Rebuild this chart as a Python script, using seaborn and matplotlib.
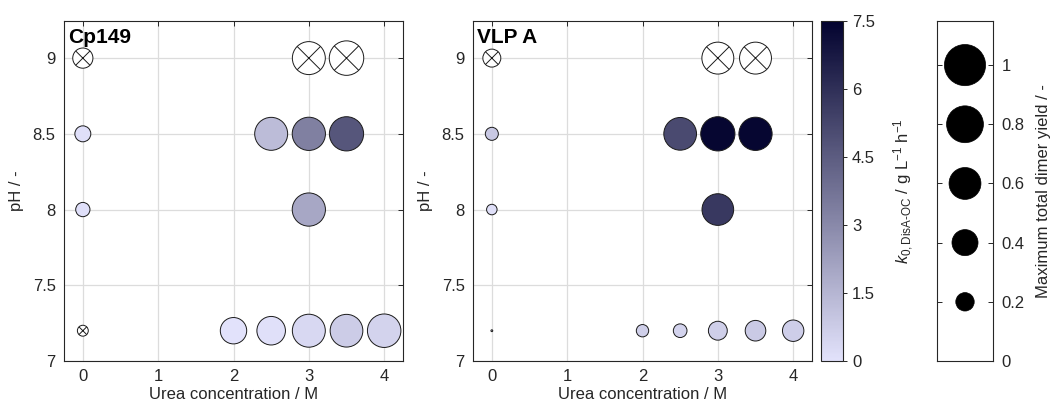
import numpy as np
import pandas as pd
import matplotlib
matplotlib.use("Agg")
import matplotlib.pyplot as plt
from matplotlib.colors import LinearSegmentedColormap, Normalize
from matplotlib.cm import ScalarMappable
import seaborn as sns

# ---- data -------------------------------------------------------------
# marker order: pH 9/8.5/8/7.2 at 0 M, pH 7.2 series, pH 8.5 series, pH 8, pH 9 series
urea = [0, 0, 0, 0, 2, 2.5, 3, 3.5, 4, 2.5, 3, 3.5, 3, 3, 3.5]
ph = [9, 8.5, 8, 7.2, 7.2, 7.2, 7.2, 7.2, 7.2, 8.5, 8.5, 8.5, 8, 9, 9]

# maximum total dimer yield (-) -> marker area
cp149_yield = [0.24, 0.15, 0.12, 0.07, 0.41, 0.48, 0.64, 0.63, 0.66,
               0.64, 0.65, 0.69, 0.65, 0.64, 0.70]
vlpa_yield = [0.19, 0.10, 0.065, 0.002, 0.09, 0.11, 0.21, 0.25, 0.27,
              0.63, 0.69, 0.65, 0.59, 0.60, 0.60]

# initial disassembly rate k0 (g/L/h) -> marker colour; NaN = no disassembly (crossed)
nan = np.nan
cp149_k = [nan, 0.1, 0.1, nan, 0.02, 0.06, 0.35, 0.75, 0.5,
           1.3, 3.3, 4.7, 2.0, nan, nan]
vlpa_k = [nan, 0.9, 0.12, 0.1, 0.65, 0.5, 0.65, 0.8, 0.7,
          5.1, 7.4, 7.4, 5.7, nan, nan]

panels = ["Cp149", "VLP A"]
x_ticks = [0, 1, 2, 3, 4]
y_ticks = [7, 7.5, 8, 8.5, 9]
cbar_ticks = [0, 1.5, 3, 4.5, 6, 7.5]
legend_yields = [0.2, 0.4, 0.6, 0.8, 1.0]
legend_ticks = [0, 0.2, 0.4, 0.6, 0.8, 1]

# ---- style ------------------------------------------------------------
sns.set_style("white")
plt.rcParams["font.family"] = ["Liberation Sans", "DejaVu Sans"]
plt.rcParams["mathtext.fontset"] = "custom"
plt.rcParams["mathtext.rm"] = "Liberation Sans"
plt.rcParams["mathtext.it"] = "Liberation Sans:italic"
plt.rcParams["axes.edgecolor"] = "#262626"
plt.rcParams["axes.linewidth"] = 0.8

cmap = LinearSegmentedColormap.from_list("k0", ["#E2E2FB", "#03032F"])
k_norm = (0, 7.5)
area_max = 880          # marker area (pt^2) for a yield of 1
size_norm = (0, 1)

W, H = 1056, 408
fig = plt.figure(figsize=(W / 100, H / 100), dpi=100)
ax1 = fig.add_axes([64 / W, 47 / H, 339 / W, 340 / H])
ax2 = fig.add_axes([473 / W, 47 / H, 339 / W, 340 / H])
cax = fig.add_axes([821 / W, 47 / H, 22 / W, 340 / H])
lax = fig.add_axes([937 / W, 47 / H, 56 / W, 340 / H])


def draw_panel(ax, name, yields, ks):
    df = pd.DataFrame({"urea": urea, "ph": ph, "yield": yields, "k": ks})
    rated = df[df["k"].notna()]
    crossed = df[df["k"].isna()]
    sns.scatterplot(data=rated, x="urea", y="ph", hue="k", size="yield",
                    palette=cmap, hue_norm=k_norm, sizes=(0, area_max),
                    size_norm=size_norm, edgecolor="#1a1a1a", linewidth=0.7,
                    legend=False, ax=ax, zorder=3)
    sns.scatterplot(data=crossed, x="urea", y="ph", size="yield",
                    sizes=(0, area_max), size_norm=size_norm, color="white",
                    edgecolor="#1a1a1a", linewidth=0.7, legend=False, ax=ax,
                    zorder=3)
    sns.scatterplot(data=crossed, x="urea", y="ph", size="yield", marker="x",
                    sizes=(0, area_max / 2), size_norm=size_norm,
                    color="#1a1a1a", linewidth=0.7, legend=False, ax=ax,
                    zorder=4)
    ax.set_xlim(-0.25, 4.25)
    ax.set_ylim(7, 9.245)
    ax.set_xticks(x_ticks)
    ax.set_yticks(y_ticks)
    ax.set_xticklabels([f"{t:g}" for t in x_ticks])
    ax.set_yticklabels([f"{t:g}" for t in y_ticks])
    ax.grid(True, color="#dcdcdc", linewidth=0.9, zorder=0)
    ax.set_axisbelow(True)
    ax.tick_params(direction="in", length=3.5, width=0.7, top=True,
                   right=True, labelsize=12, colors="#262626", pad=6)
    ax.set_xlabel("Urea concentration / M", fontsize=12, labelpad=2,
                  color="#262626")
    ax.set_ylabel("pH / -", fontsize=12, labelpad=6, color="#262626")
    ax.text(0.012, 0.978, name, transform=ax.transAxes, ha="left", va="top",
            fontsize=15, fontweight="bold", color="black")
    for s in ax.spines.values():
        s.set_visible(True)


draw_panel(ax1, panels[0], cp149_yield, cp149_k)
draw_panel(ax2, panels[1], vlpa_yield, vlpa_k)

# ---- colour bar -------------------------------------------------------
sm = ScalarMappable(norm=Normalize(*k_norm), cmap=cmap)
cb = fig.colorbar(sm, cax=cax, ticks=cbar_ticks)
cb.ax.set_yticklabels([f"{t:g}" for t in cbar_ticks])
cb.ax.tick_params(labelsize=12, length=3, width=0.7, colors="#262626")
cb.outline.set_linewidth(0.8)
cb.outline.set_edgecolor("#262626")
cb.set_label(r"$k_{\mathrm{0,DisA\text{-}OC}}$ / g L$^{-1}$ h$^{-1}$",
             fontsize=12, labelpad=12, color="#262626")

# ---- size key ---------------------------------------------------------
key = pd.DataFrame({"x": [0] * len(legend_yields), "yield": legend_yields})
sns.scatterplot(data=key, x="x", y="yield", size="yield", sizes=(0, area_max),
                size_norm=size_norm, color="black", edgecolor="black",
                linewidth=0.5, legend=False, ax=lax)
lax.set_xlim(-1, 1)
lax.set_ylim(0, 1.149)
lax.set_xticks([])
lax.set_yticks(legend_ticks)
lax.set_yticklabels([f"{t:g}" for t in legend_ticks])
lax.yaxis.tick_right()
lax.yaxis.set_label_position("right")
lax.tick_params(axis="y", direction="in", length=3.5, width=0.7, left=True,
                right=True, labelsize=12, colors="#262626", pad=6)
lax.set_xlabel("")
lax.set_ylabel("Maximum total dimer yield / -", fontsize=12, labelpad=8,
               color="#262626")
for s in lax.spines.values():
    s.set_visible(True)

fig.savefig("out.png", dpi=100)
